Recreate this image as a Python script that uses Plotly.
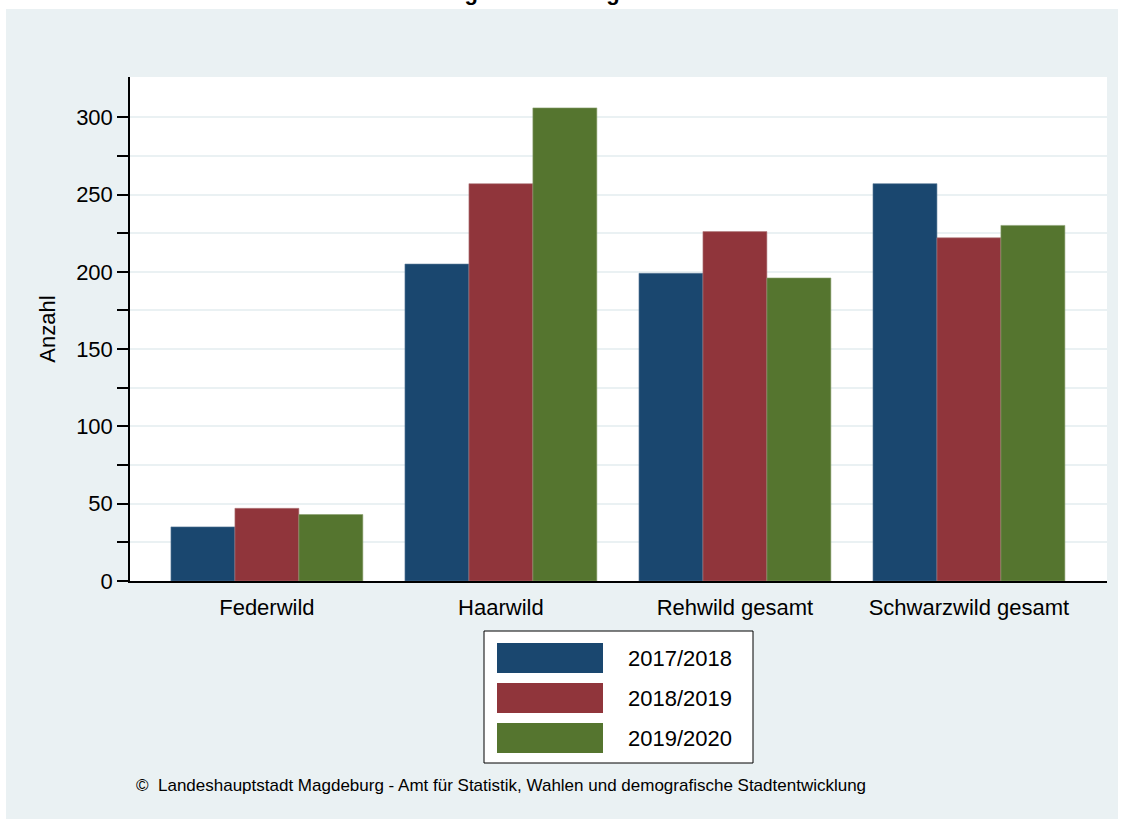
import plotly.graph_objects as go

# Jagdstrecke nach Wildart und Jagdjahr
categories = ["Federwild", "Haarwild", "Rehwild gesamt", "Schwarzwild gesamt"]
seasons = ["2017/2018", "2018/2019", "2019/2020"]
values_2017 = [35, 205, 199, 257]
values_2018 = [47, 257, 226, 222]
values_2019 = [43, 306, 196, 230]
y_ticks = [0, 50, 100, 150, 200, 250, 300]
y_minor_ticks = [25, 75, 125, 175, 225, 275]
colors = ["#1a476f", "#90353b", "#55752f"]
edge_colors = ["#5a7a99", "#b07a7e", "#8aa06e"]

W, H = 1124, 821
L, R, T, B = 130, 1107, 77, 581
BG = "#eaf1f3"
FONT = "Liberation Sans, Arial, Helvetica, sans-serif"


def px(x):
    return (x - L) / (R - L)


def py(y):
    return (B - y) / (B - T)


fig = go.Figure()
for name, vals, col, edge in zip(seasons, [values_2017, values_2018, values_2019], colors, edge_colors):
    fig.add_trace(go.Bar(x=categories, y=vals, name=name, marker_color=col,
                         marker_line=dict(color=edge, width=0.6), showlegend=False))

shapes = []
# white page border around the grey-blue background
for x0, y0, x1, y1 in [(0, 0, W, 9), (0, 0, 6, H), (1118, 0, W, H), (0, 819, W, H)]:
    shapes.append(dict(type="rect", xref="paper", yref="paper", x0=px(x0), x1=px(x1),
                       y0=py(y1), y1=py(y0), fillcolor="white", line_width=0, layer="above"))

# legend box
shapes.append(dict(type="rect", xref="paper", yref="paper", x0=px(484), x1=px(753),
                   y0=py(763), y1=py(631), fillcolor="white", line=dict(color="black", width=1)))
annotations = []
for i, (name, col) in enumerate(zip(seasons, colors)):
    top = 643 + 40 * i
    shapes.append(dict(type="rect", xref="paper", yref="paper", x0=px(497), x1=px(603),
                       y0=py(top + 30), y1=py(top), fillcolor=col, line_width=0))
    annotations.append(dict(text=name, xref="paper", yref="paper", x=px(626), y=py(top + 15),
                            xanchor="left", yanchor="middle", showarrow=False,
                            font=dict(size=22, color="black", family=FONT)))

annotations.append(dict(text="\u00a9  Landeshauptstadt Magdeburg - Amt für Statistik, Wahlen und demografische Stadtentwicklung",
                        xref="paper", yref="paper", x=px(134), y=py(785), xanchor="left", yanchor="middle",
                        showarrow=False, font=dict(size=17, color="black", family=FONT)))
# title is cut off at the top edge, as in the original
annotations.append(dict(text="<b>Jagdstrecke insgesamt</b>", xref="paper", yref="paper", x=0.5 * (px(0) + px(W)),
                        y=py(7), xanchor="center", yanchor="bottom", showarrow=False,
                        font=dict(size=22, color="black", family=FONT)))

fig.update_layout(
    width=W, height=H,
    margin=dict(l=L, r=W - R, t=T, b=H - B, pad=0),
    paper_bgcolor=BG, plot_bgcolor="white",
    barmode="group", bargap=0.18, bargroupgap=0,
    font=dict(family=FONT, size=22, color="black"),
    shapes=shapes, annotations=annotations,
    xaxis=dict(range=[-0.585, 3.59], showline=True, linecolor="black", linewidth=1.5,
               ticks="outside", ticklen=6, tickcolor="rgba(0,0,0,0)", showgrid=False,
               tickfont=dict(size=22)),
    yaxis=dict(range=[0, 326], tickvals=y_ticks,
               showline=True, linecolor="black", linewidth=1.5,
               ticks="outside", ticklen=11, tickcolor="black", tickwidth=1.5,
               showgrid=True, gridcolor=BG, gridwidth=2, zeroline=False,
               minor=dict(tickvals=y_minor_ticks, ticks="outside", ticklen=11, tickcolor="black",
                          tickwidth=1.5, showgrid=True, gridcolor=BG, gridwidth=2),
               title=dict(text="Anzahl", font=dict(size=22), standoff=14),
               tickfont=dict(size=22)),
)

fig.write_html("out.html", config={"displayModeBar": False},
               post_script="document.body.style.margin='0';")
